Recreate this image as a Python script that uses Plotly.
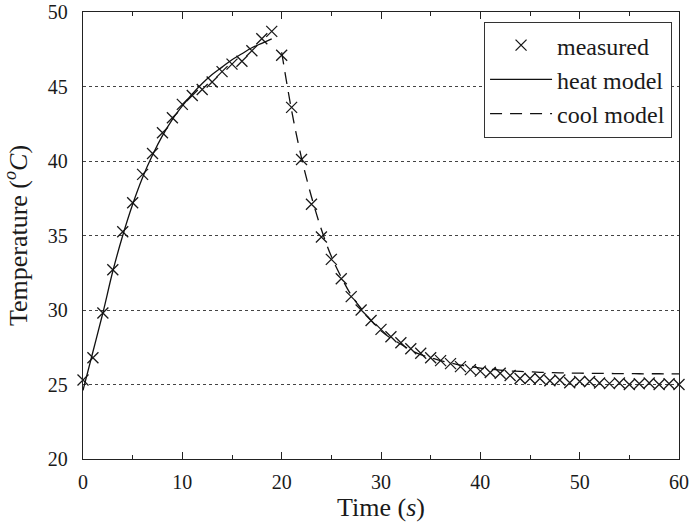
import plotly.graph_objects as go

# ---- data ----
t_measured = list(range(0, 61))
temp_measured = [25.3, 26.8, 29.8, 32.7, 35.25, 37.2, 39.1, 40.5, 41.9, 42.9,
                 43.8, 44.4, 44.8, 45.3, 46.0, 46.5, 46.7, 47.4, 48.2, 48.7,
                 47.1, 43.6, 40.1, 37.1, 34.9, 33.4, 32.1, 30.9, 30.0, 29.3,
                 28.7, 28.2, 27.8, 27.4, 27.1, 26.8, 26.6, 26.4, 26.2, 26.0,
                 25.9, 25.8, 25.75, 25.6, 25.4, 25.4, 25.4, 25.25, 25.3, 25.12,
                 25.2, 25.2, 25.1, 25.06, 25.1, 25.0, 25.05, 25.1, 25.0, 25.05, 25.0]

t_heat = list(range(0, 20))
temp_heat = [24.6, 27.2, 29.8, 32.6, 35.0, 37.1, 38.9, 40.4, 41.7, 42.8,
             43.7, 44.5, 45.2, 45.8, 46.3, 46.8, 47.2, 47.6, 47.9, 48.2]

t_cool = list(range(20, 61))
temp_cool = [47.3, 43.4, 40.2, 37.6, 35.4, 33.6, 32.2, 31.0, 30.1, 29.3,
             28.6, 28.1, 27.7, 27.3, 27.0, 26.8, 26.6, 26.45, 26.3, 26.2,
             26.1, 26.02, 25.96, 25.91, 25.88, 25.85, 25.82, 25.8, 25.78, 25.77,
             25.76, 25.75, 25.74, 25.74, 25.73, 25.73, 25.72, 25.72, 25.72, 25.71, 25.71]

x_ticks = [0, 10, 20, 30, 40, 50, 60]
y_ticks = [20, 25, 30, 35, 40, 45, 50]

FONT = "Liberation Serif"
INK = "#1a1a1a"

fig = go.Figure()
fig.add_trace(go.Scatter(
    x=t_measured, y=temp_measured, mode="markers", name="measured",
    marker=dict(symbol="x-thin-open", size=11, color=INK,
                line=dict(width=1.3, color=INK)),
    cliponaxis=False,
))
fig.add_trace(go.Scatter(
    x=t_heat, y=temp_heat, mode="lines", name="heat model",
    line=dict(color="#111111", width=1.3, shape="spline"),
))
fig.add_trace(go.Scatter(
    x=t_cool, y=temp_cool, mode="lines", name="cool model",
    line=dict(color="#111111", width=1.3, shape="spline", dash="12px,8px"),
))

fig.update_layout(
    width=689, height=527,
    margin=dict(l=83, r=10, t=12, b=68),
    paper_bgcolor="white", plot_bgcolor="white",
    font=dict(family=FONT, size=20, color=INK),
    showlegend=True,
    legend=dict(
        x=0.988, y=0.978, xanchor="right", yanchor="top",
        bgcolor="white", bordercolor="#333", borderwidth=1.2,
        font=dict(family=FONT, size=24, color=INK),
        tracegroupgap=0, itemwidth=62,
    ),
    xaxis=dict(
        range=[0, 60], tickvals=x_ticks, ticktext=[str(v) for v in x_ticks],
        showline=True, linecolor="#222", linewidth=1.3, mirror="ticks",
        ticks="inside", ticklen=7, tickcolor="#222", tickwidth=1.2,
        minor=dict(dtick=5, ticks="inside", ticklen=4, tickcolor="#222", tickwidth=1.2),
        showgrid=False, zeroline=False, automargin=False,
        ticklabelstandoff=5,
        tickfont=dict(family=FONT, size=20, color=INK),
        title=dict(text="Time (<i>s</i>)", font=dict(family=FONT, size=26, color=INK),
                   standoff=0),
    ),
    yaxis=dict(
        range=[20, 50], tickvals=y_ticks, ticktext=[str(v) for v in y_ticks],
        showline=True, linecolor="#222", linewidth=1.3, mirror=True,
        ticks="", showgrid=True, gridcolor="#444", griddash="dot", gridwidth=1,
        zeroline=False, automargin=False,
        ticklabelstandoff=10,
        tickfont=dict(family=FONT, size=20, color=INK),
        title=dict(text="Temperature (<sup><i>o</i></sup><i>C</i>)",
                   font=dict(family=FONT, size=26, color=INK)),
    ),
)

fig.write_html("out.html", config={"displayModeBar": False},
               post_script="document.body.style.margin='0px';")
